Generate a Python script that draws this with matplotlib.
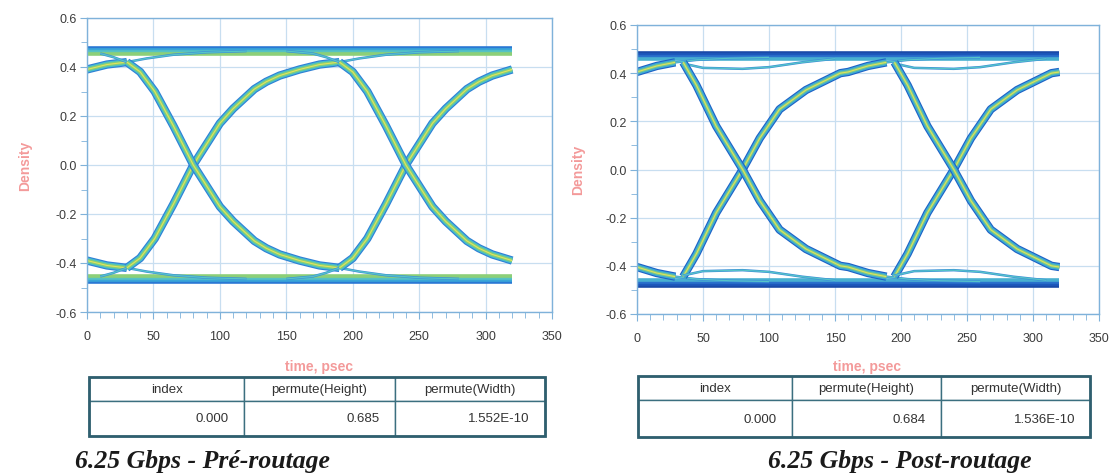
import numpy as np
import matplotlib.pyplot as plt
from matplotlib.ticker import MultipleLocator, FormatStrFormatter
from matplotlib.patches import Rectangle

plt.rcParams['axes.unicode_minus'] = False
plt.rcParams['font.family'] = ['Liberation Sans', 'DejaVu Sans']

# eye diagram, time in psec, 2 UI shown (UI = 160 ps)
T_END = 320
CROSS_T = [-80, 80, 240]

# pre-routage: rising edge read around its zero crossing (falling = mirrored)
PRE_DT = [-50, -40, -29, -15, 0, 20, 30, 46, 55, 65, 80, 95, 110]
PRE_V = [-0.42, -0.38, -0.30, -0.16, 0.0, 0.17, 0.23, 0.31, 0.34, 0.365, 0.39, 0.41, 0.42]
PRE_HOLD_DT = [110, 125, 145, 170, 200]
PRE_HOLD_V = [0.42, 0.435, 0.45, 0.46, 0.465]
PRE_LEAVE_DT = [-90, -70, -60, -50]
PRE_LEAVE_V = [-0.465, -0.455, -0.44, -0.42]
PRE_RAILS = [0.476, 0.468, 0.46, 0.453]

# post-routage
POST_DT = [-45, -35, -20, 0, 13, 28, 48, 74, 80, 95, 109]
POST_V = [-0.445, -0.35, -0.18, 0.0, 0.13, 0.25, 0.33, 0.40, 0.405, 0.43, 0.445]
POST_HOLD_DT = [109, 125, 150, 180]
POST_HOLD_V = [0.445, 0.455, 0.462, 0.465]
POST_DIP_DT = [-45, -30, 0, 20, 45, 70]
POST_DIP_V = [0.44, 0.422, 0.418, 0.425, 0.445, 0.46]
POST_RAILS = [0.484, 0.476, 0.468, 0.46]

TABLE_COLS = ["index", "permute(Height)", "permute(Width)"]
PRE_TABLE = ["0.000", "0.685", "1.552E-10"]
POST_TABLE = ["0.000", "0.684", "1.536E-10"]

PRE_EDGE_STYLE = [('#2f80d6', 6.0), ('#45bccd', 4.4), ('#86cf78', 2.6), ('#e2e45c', 0.8)]
POST_EDGE_STYLE = [('#1e62c6', 6.0), ('#3aa8d6', 4.4), ('#7cc98a', 2.4), ('#dfe35a', 0.8)]
THIN_STYLE = [('#3c8fd8', 1.8), ('#55c4c8', 0.9)]
PRE_RAIL_COLORS = ['#2a78d4', '#3aa6d8', '#55c2c4', '#8ccf78']
POST_RAIL_COLORS = ['#1a4aa8', '#1d58bc', '#2a70cc', '#48b0d0']

W, H = 1119, 477


def draw_trace(ax, t, v, layers):
    t = np.asarray(t, float)
    v = np.asarray(v, float)
    keep = (t >= 0) & (t <= T_END)
    for color, lw in layers:
        ax.plot(t[keep], v[keep], color=color, lw=lw,
                solid_capstyle='butt', solid_joinstyle='round')


def draw_eye(ax, dt, v, extras, rails, edge_style, rail_colors):
    for r, col in zip(rails, rail_colors):
        for sign in (1, -1):
            ax.plot([0, T_END], [sign * r, sign * r], color=col, lw=2.6,
                    solid_capstyle='butt')
    for c in CROSS_T:
        t = np.asarray(dt) + c
        for sign in (1, -1):
            for edt, ev in extras:
                draw_trace(ax, np.asarray(edt) + c, sign * np.asarray(ev), THIN_STYLE)
            draw_trace(ax, t, sign * np.asarray(v), edge_style)


def style_axes(ax):
    ax.set_xlim(0, 350)
    ax.set_ylim(-0.6, 0.6)
    ax.xaxis.set_major_locator(MultipleLocator(50))
    ax.xaxis.set_minor_locator(MultipleLocator(10))
    ax.yaxis.set_major_locator(MultipleLocator(0.2))
    ax.yaxis.set_minor_locator(MultipleLocator(0.1))
    ax.yaxis.set_major_formatter(FormatStrFormatter('%.1f'))
    ax.grid(True, which='major', color='#c8def0', lw=0.9)
    ax.set_axisbelow(True)
    for s in ax.spines.values():
        s.set_color('#7fb2da')
        s.set_linewidth(1.0)
    ax.tick_params(which='both', colors='#7fb2da', labelcolor='#3c3c3c',
                   labelsize=9, direction='out')
    ax.tick_params(axis='x', which='major', length=5, pad=8)
    ax.tick_params(axis='x', which='minor', length=4)
    ax.tick_params(axis='y', which='major', length=5, pad=2)
    ax.tick_params(axis='y', which='minor', length=4)


def add_table(fig, rect, values):
    tax = fig.add_axes(rect)
    tax.axis('off')
    tb = tax.table(cellText=[values], colLabels=TABLE_COLS, bbox=[0, 0, 1, 1],
                   cellLoc='right', colLoc='center', colWidths=[0.34, 0.33, 0.33])
    tb.auto_set_font_size(False)
    tb.set_fontsize(9.5)
    for (row, col), cell in tb.get_celld().items():
        cell.set_edgecolor('#3b6f7f')
        cell.set_linewidth(1.0)
        cell.set_height(0.4 if row == 0 else 0.6)
        cell.get_text().set_color('#333333')
    tax.add_patch(Rectangle((0, 0), 1, 1, transform=tax.transAxes, fill=False,
                            edgecolor='#2f5f6f', lw=2.0, clip_on=False))


def px_rect(x0, y0, x1, y1):
    return [x0 / W, 1 - y1 / H, (x1 - x0) / W, (y1 - y0) / H]


fig = plt.figure(figsize=(W / 100, H / 100), dpi=100)

ax1 = fig.add_axes(px_rect(87, 19, 552, 313))
ax2 = fig.add_axes(px_rect(637, 26, 1099, 315))

draw_eye(ax1, PRE_DT, PRE_V,
         [(PRE_HOLD_DT, PRE_HOLD_V), (PRE_LEAVE_DT, PRE_LEAVE_V)],
         PRE_RAILS, PRE_EDGE_STYLE, PRE_RAIL_COLORS)
draw_eye(ax2, POST_DT, POST_V,
         [(POST_HOLD_DT, POST_HOLD_V), (POST_DIP_DT, POST_DIP_V)],
         POST_RAILS, POST_EDGE_STYLE, POST_RAIL_COLORS)

for ax in (ax1, ax2):
    style_axes(ax)

label_kw = dict(color='#f07878', fontsize=10, fontweight='bold', alpha=0.75)
fig.text(25 / W, 1 - 166 / H, "Density", rotation=90, ha='center', va='center', **label_kw)
fig.text(578 / W, 1 - 170 / H, "Density", rotation=90, ha='center', va='center', **label_kw)
fig.text(319 / W, 1 - 367 / H, "time, psec", ha='center', va='center', **label_kw)
fig.text(867 / W, 1 - 367 / H, "time, psec", ha='center', va='center', **label_kw)

add_table(fig, px_rect(89, 378, 545, 437), PRE_TABLE)
add_table(fig, px_rect(638, 377, 1090, 438), POST_TABLE)

title_kw = dict(fontfamily='Liberation Serif', fontstyle='italic', fontweight='bold',
                fontsize=18.5, color='#1a1a1a', va='baseline')
fig.text(75 / W, 1 - 468 / H, "6.25 Gbps - Pré-routage", ha='left', **title_kw)
fig.text(900 / W, 1 - 468 / H, "6.25 Gbps - Post-routage", ha='center', **title_kw)

fig.savefig('out.png', dpi=100, facecolor='white')
